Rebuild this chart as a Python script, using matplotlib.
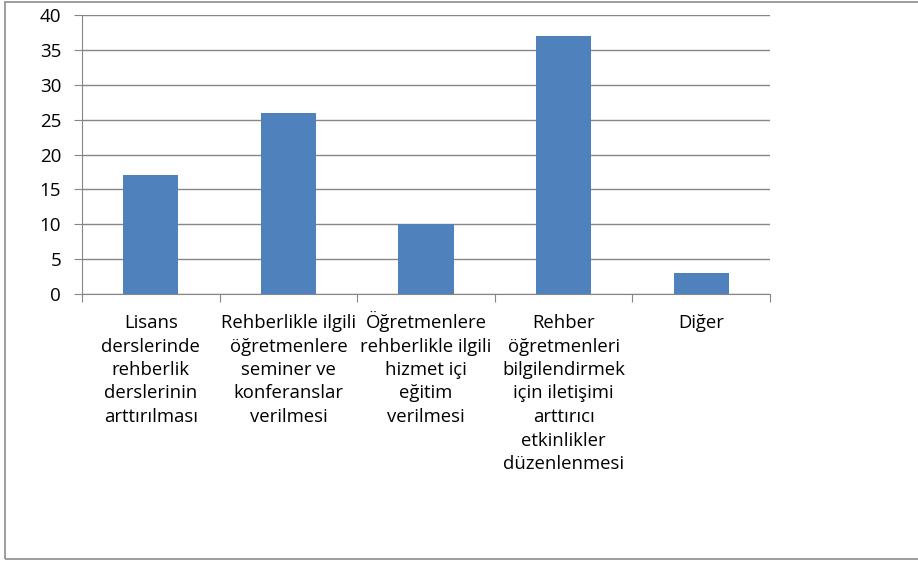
import matplotlib
matplotlib.use("Agg")
import matplotlib.pyplot as plt
from matplotlib.patches import Rectangle
from matplotlib.transforms import blended_transform_factory, offset_copy

categories = [
    "Lisans\nderslerinde\nrehberlik\nderslerinin\narttırılması",
    "Rehberlikle ilgili\nöğretmenlere\nseminer ve\nkonferanslar\nverilmesi",
    "Öğretmenlere\nrehberlikle ilgili\nhizmet içi\neğitim\nverilmesi",
    "Rehber\nöğretmenleri\nbilgilendirmek\niçin iletişimi\narttırıcı\netkinlikler\ndüzenlenmesi",
    "Diğer",
]
values = [17, 26, 10, 37, 3]
yticks = [0, 5, 10, 15, 20, 25, 30, 35, 40]

plt.rcParams['font.family'] = ['Open Sans', 'DejaVu Sans']
W, H = 918, 563
fig = plt.figure(figsize=(W/100, H/100), dpi=100)
fig.patches.append(Rectangle((5/W, 1 - 559/H), (930-5)/W, (559-2)/H,
                             transform=fig.transFigure, fill=False,
                             edgecolor='#8c8c8c', linewidth=1.2))
ax = fig.add_axes([82/W, 1 - 294/H, (770-82)/W, (294-15)/H])
x = list(range(len(values)))
ax.bar(x, values, width=0.4, color='#4F81BD', zorder=3)
ax.set_xlim(-0.5, len(values) - 0.5)
ax.set_ylim(0, 40)
ax.set_yticks(yticks)
ax.set_yticklabels([str(t) for t in yticks], fontsize=13.5)
ax.yaxis.grid(True, color='#868686', linewidth=1.0, zorder=0)
ax.tick_params(axis='y', length=6, color='#868686', pad=9)
ax.set_xticks([i - 0.5 for i in range(len(values) + 1)])
ax.set_xticklabels([])
ax.tick_params(axis='x', length=6, color='#868686', direction='out')
trans = blended_transform_factory(ax.transData, ax.transAxes)
trans = offset_copy(trans, fig=fig, x=0, y=-34, units='dots')
for xi, lab in zip(x, categories):
    lines = lab.split("\n")
    for j, ln in enumerate(lines):
        t = offset_copy(trans, fig=fig, x=0, y=-23.5 * j, units='dots')
        ax.text(xi, 0, ln, transform=t, ha='center', va='baseline',
                fontsize=13.3, clip_on=False)
for s in ['top', 'right']:
    ax.spines[s].set_visible(False)
for s in ['left', 'bottom']:
    ax.spines[s].set_color('#868686')
fig.savefig('out.png', dpi=100)
